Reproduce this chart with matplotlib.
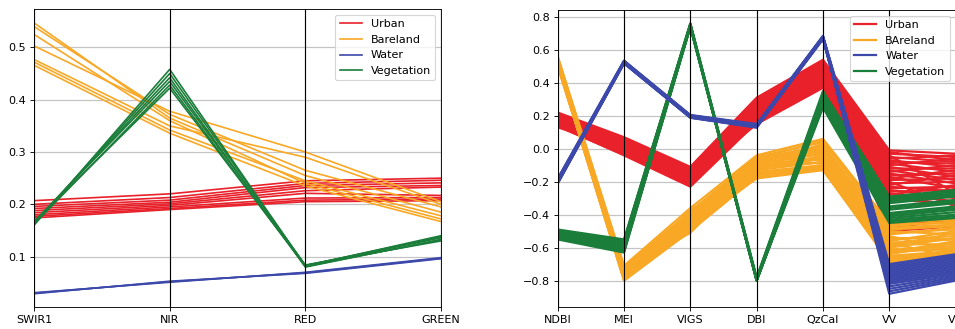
import numpy as np
import matplotlib
matplotlib.use('Agg')
import matplotlib.pyplot as plt
from matplotlib.lines import Line2D

# ---- left chart: spectral bands ----
bands_left = ['SWIR1', 'NIR', 'RED', 'GREEN']

urban_l = [[0.207, 0.220, 0.245, 0.250],
           [0.200, 0.213, 0.240, 0.246],
           [0.196, 0.208, 0.236, 0.241],
           [0.192, 0.204, 0.232, 0.236],
           [0.188, 0.201, 0.226, 0.233],
           [0.184, 0.198, 0.221, 0.217],
           [0.180, 0.195, 0.212, 0.213],
           [0.177, 0.192, 0.208, 0.210],
           [0.174, 0.190, 0.205, 0.207]]

bare_l = [[0.547, 0.365, 0.255, 0.185],
          [0.540, 0.372, 0.265, 0.195],
          [0.525, 0.360, 0.240, 0.172],
          [0.503, 0.378, 0.300, 0.205],
          [0.477, 0.350, 0.290, 0.200],
          [0.472, 0.342, 0.245, 0.178],
          [0.466, 0.336, 0.235, 0.167]]

veg_l = [[0.160, 0.458, 0.082, 0.140],
         [0.163, 0.450, 0.083, 0.136],
         [0.165, 0.442, 0.080, 0.133],
         [0.167, 0.435, 0.084, 0.130],
         [0.162, 0.428, 0.081, 0.132],
         [0.166, 0.422, 0.083, 0.138]]

water_l = [[0.030, 0.052, 0.069, 0.097],
           [0.031, 0.051, 0.070, 0.098],
           [0.029, 0.053, 0.068, 0.096]]

# ---- right chart: indices ----
bands_right = ['NDBI', 'MEI', 'VIGS', 'DBI', 'QzCal', 'VV', 'VH']

urban_r = [[0.22, 0.07, -0.11, 0.31, 0.54, -0.01, -0.03],
           [0.21, 0.06, -0.12, 0.30, 0.52, -0.03, -0.05],
           [0.20, 0.05, -0.13, 0.29, 0.51, -0.06, -0.04],
           [0.20, 0.04, -0.14, 0.28, 0.50, -0.08, -0.09],
           [0.19, 0.04, -0.15, 0.27, 0.49, -0.10, -0.06],
           [0.19, 0.03, -0.15, 0.26, 0.48, -0.12, -0.12],
           [0.18, 0.02, -0.16, 0.25, 0.47, -0.14, -0.10],
           [0.18, 0.02, -0.17, 0.24, 0.47, -0.16, -0.15],
           [0.17, 0.01, -0.17, 0.23, 0.46, -0.18, -0.13],
           [0.17, 0.00, -0.18, 0.22, 0.45, -0.19, -0.18],
           [0.16, 0.00, -0.19, 0.21, 0.44, -0.21, -0.20],
           [0.16, -0.01, -0.19, 0.20, 0.43, -0.22, -0.16],
           [0.15, -0.02, -0.20, 0.19, 0.42, -0.24, -0.23],
           [0.15, -0.03, -0.21, 0.18, 0.41, -0.26, -0.25],
           [0.14, -0.03, -0.22, 0.17, 0.40, -0.28, -0.22],
           [0.14, -0.04, -0.23, 0.16, 0.38, -0.30, -0.28],
           [0.13, 0.01, -0.18, 0.15, 0.37, -0.31, -0.33],
           [0.18, 0.03, -0.16, 0.27, 0.44, -0.45, -0.45],
           [0.16, -0.01, -0.20, 0.22, 0.40, -0.48, -0.43],
           [0.15, 0.02, -0.14, 0.20, 0.46, -0.50, -0.47],
           [0.20, -0.02, -0.21, 0.25, 0.50, -0.20, -0.35],
           [0.17, 0.05, -0.13, 0.19, 0.39, -0.04, -0.27],
           [0.215, 0.065, -0.115, 0.305, 0.53, -0.02, -0.07],
           [0.205, 0.055, -0.125, 0.295, 0.515, -0.05, -0.08],
           [0.195, 0.045, -0.135, 0.285, 0.505, -0.07, -0.11],
           [0.19, 0.035, -0.145, 0.275, 0.495, -0.09, -0.14],
           [0.185, 0.025, -0.155, 0.265, 0.485, -0.11, -0.17],
           [0.175, 0.015, -0.165, 0.245, 0.475, -0.13, -0.19],
           [0.165, 0.005, -0.175, 0.225, 0.455, -0.15, -0.21],
           [0.155, -0.015, -0.185, 0.205, 0.435, -0.17, -0.24],
           [0.145, -0.025, -0.195, 0.185, 0.415, -0.23, -0.26],
           [0.135, -0.035, -0.215, 0.165, 0.395, -0.25, -0.30],
           [0.14, -0.02, -0.225, 0.175, 0.385, -0.27, -0.32],
           [0.16, 0.00, -0.19, 0.21, 0.42, -0.29, -0.34]]

bare_r = [[0.56, -0.71, -0.36, -0.04, 0.06, -0.45, -0.43],
          [0.55, -0.72, -0.38, -0.05, 0.04, -0.48, -0.46],
          [0.55, -0.73, -0.40, -0.06, 0.02, -0.50, -0.52],
          [0.54, -0.74, -0.41, -0.07, 0.00, -0.52, -0.48],
          [0.54, -0.75, -0.43, -0.08, -0.02, -0.54, -0.55],
          [0.53, -0.76, -0.44, -0.09, -0.03, -0.56, -0.50],
          [0.53, -0.77, -0.45, -0.10, -0.05, -0.58, -0.58],
          [0.52, -0.78, -0.46, -0.11, -0.06, -0.60, -0.54],
          [0.52, -0.79, -0.48, -0.12, -0.08, -0.62, -0.61],
          [0.51, -0.80, -0.50, -0.14, -0.10, -0.64, -0.57],
          [0.51, -0.74, -0.42, -0.16, -0.12, -0.66, -0.63],
          [0.50, -0.76, -0.47, -0.18, -0.13, -0.68, -0.65],
          [0.55, -0.78, -0.39, -0.09, -0.01, -0.70, -0.60],
          [0.53, -0.72, -0.44, -0.13, -0.04, -0.47, -0.44],
          [0.52, -0.75, -0.49, -0.05, -0.07, -0.53, -0.62],
          [0.54, -0.79, -0.37, -0.15, -0.11, -0.59, -0.51],
          [0.51, -0.73, -0.51, -0.10, 0.03, -0.63, -0.56],
          [0.56, -0.77, -0.43, -0.07, -0.09, -0.57, -0.66],
          [0.55, -0.72, -0.39, -0.06, 0.05, -0.46, -0.45],
          [0.54, -0.73, -0.41, -0.07, 0.01, -0.49, -0.47],
          [0.54, -0.74, -0.42, -0.08, -0.01, -0.51, -0.49],
          [0.53, -0.75, -0.44, -0.09, -0.03, -0.55, -0.53],
          [0.53, -0.76, -0.45, -0.11, -0.05, -0.57, -0.55],
          [0.52, -0.77, -0.46, -0.12, -0.06, -0.61, -0.59],
          [0.52, -0.78, -0.47, -0.13, -0.08, -0.63, -0.60],
          [0.51, -0.79, -0.48, -0.15, -0.10, -0.65, -0.62],
          [0.51, -0.80, -0.49, -0.16, -0.12, -0.67, -0.64],
          [0.50, -0.78, -0.50, -0.17, -0.12, -0.69, -0.65]]

veg_r = [[-0.49, -0.55, 0.76, -0.78, 0.35, -0.29, -0.25],
         [-0.50, -0.56, 0.76, -0.79, 0.33, -0.31, -0.27],
         [-0.50, -0.57, 0.75, -0.79, 0.32, -0.33, -0.29],
         [-0.51, -0.58, 0.75, -0.79, 0.31, -0.35, -0.31],
         [-0.52, -0.59, 0.75, -0.80, 0.30, -0.37, -0.33],
         [-0.52, -0.60, 0.75, -0.80, 0.29, -0.39, -0.35],
         [-0.53, -0.61, 0.74, -0.80, 0.28, -0.41, -0.37],
         [-0.54, -0.62, 0.74, -0.80, 0.27, -0.43, -0.40],
         [-0.55, -0.63, 0.74, -0.80, 0.25, -0.45, -0.42],
         [-0.495, -0.555, 0.76, -0.785, 0.34, -0.30, -0.26],
         [-0.505, -0.565, 0.755, -0.79, 0.325, -0.32, -0.28],
         [-0.515, -0.585, 0.75, -0.795, 0.305, -0.36, -0.32],
         [-0.525, -0.605, 0.745, -0.80, 0.285, -0.40, -0.36],
         [-0.535, -0.615, 0.74, -0.80, 0.275, -0.42, -0.385],
         [-0.545, -0.625, 0.74, -0.80, 0.26, -0.44, -0.41]]

water_r = [[-0.18, 0.535, 0.205, 0.150, 0.685, -0.70, -0.64],
           [-0.19, 0.530, 0.200, 0.145, 0.680, -0.72, -0.66],
           [-0.19, 0.528, 0.198, 0.140, 0.678, -0.74, -0.68],
           [-0.20, 0.525, 0.195, 0.138, 0.675, -0.76, -0.70],
           [-0.20, 0.522, 0.192, 0.135, 0.672, -0.78, -0.72],
           [-0.21, 0.520, 0.190, 0.132, 0.668, -0.80, -0.74],
           [-0.21, 0.518, 0.188, 0.128, 0.665, -0.82, -0.76],
           [-0.20, 0.532, 0.202, 0.142, 0.682, -0.85, -0.78],
           [-0.19, 0.526, 0.196, 0.136, 0.670, -0.88, -0.80],
           [-0.185, 0.533, 0.203, 0.147, 0.683, -0.71, -0.65],
           [-0.195, 0.529, 0.199, 0.143, 0.679, -0.73, -0.67],
           [-0.195, 0.527, 0.197, 0.139, 0.676, -0.75, -0.69],
           [-0.205, 0.523, 0.193, 0.136, 0.673, -0.77, -0.71],
           [-0.205, 0.521, 0.191, 0.133, 0.670, -0.79, -0.73],
           [-0.21, 0.519, 0.189, 0.130, 0.666, -0.81, -0.75],
           [-0.20, 0.531, 0.201, 0.141, 0.681, -0.835, -0.77],
           [-0.19, 0.524, 0.194, 0.134, 0.671, -0.865, -0.79]]

c_urban = '#e8212b'
c_bare = '#f9a825'
c_water = '#3c49aa'
c_veg = '#1b7d3a'


def parallel(ax, cols, groups, names, colors, lw):
    x = np.arange(len(cols))
    # draw order: urban, bareland, vegetation, water
    for key in [0, 1, 3, 2]:
        for row in groups[key]:
            ax.plot(x, row, color=colors[key], lw=lw)
    for xi in x:
        ax.axvline(xi, color='black', linewidth=1)
    ax.set_xticks(x)
    ax.set_xticklabels(cols)
    ax.set_xlim(x[0], x[-1])
    ax.grid(True, color='#c4c4c4', linewidth=1.1)
    handles = [Line2D([0], [0], color=colors[i], lw=lw) for i in range(4)]
    ax.legend(handles, names, loc='upper right')


fig = plt.figure(figsize=(955 / 80, 329 / 80), dpi=80)
ax1 = fig.add_axes([34 / 955, 1 - 307.3 / 329, (441 - 34) / 955, (307.3 - 9.3) / 329])
ax2 = fig.add_axes([557.7 / 955, 1 - 307.3 / 329, (955.6 - 557.7) / 955, (307.3 - 10) / 329])

parallel(ax1, bands_left, [urban_l, bare_l, water_l, veg_l],
         ['Urban', 'Bareland', 'Water', 'Vegetation'],
         [c_urban, c_bare, c_water, c_veg], 1.5)
parallel(ax2, bands_right, [urban_r, bare_r, water_r, veg_r],
         ['Urban', 'BAreland', 'Water', 'Vegetation'],
         [c_urban, c_bare, c_water, c_veg], 2)

ax1.set_yticks([0.1, 0.2, 0.3, 0.4, 0.5])
ax2.set_yticks([-0.8, -0.6, -0.4, -0.2, 0.0, 0.2, 0.4, 0.6, 0.8])

fig.savefig('out.png', dpi=80)
